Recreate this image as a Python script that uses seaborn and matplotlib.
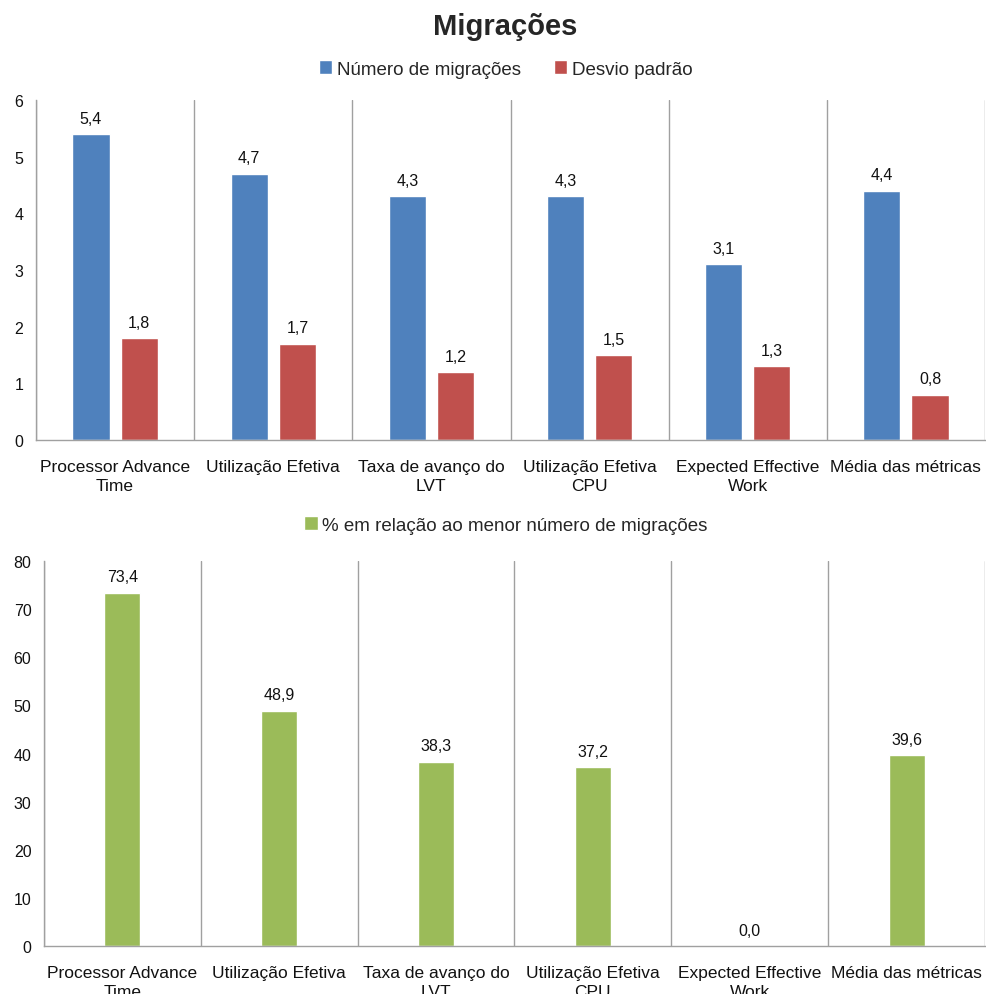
import matplotlib
matplotlib.use("Agg")
import matplotlib.pyplot as plt
import seaborn as sns
import pandas as pd
import numpy as np

categorias = [
    "Processor Advance\nTime",
    "Utilização Efetiva",
    "Taxa de avanço do\nLVT",
    "Utilização Efetiva\nCPU",
    "Expected Effective\nWork",
    "Média das métricas",
]
migracoes = [5.4, 4.7, 4.3, 4.3, 3.1, 4.4]
desvio = [1.8, 1.7, 1.2, 1.5, 1.3, 0.8]
percentual = [73.4, 48.9, 38.3, 37.2, 0.0, 39.6]

serie_mig = "Número de migrações"
serie_dp = "Desvio padrão"
serie_pct = "% em relação ao menor número de migrações"

AZUL = "#4F81BD"
VERMELHO = "#C0504D"
VERDE = "#9BBB59"
CINZA = "#A0A0A0"

sns.set_theme(style="white")
plt.rcParams["font.family"] = ["Liberation Sans", "DejaVu Sans"]

top_df = pd.DataFrame({
    "categoria": categorias * 2,
    "valor": migracoes + desvio,
    "serie": [serie_mig] * len(categorias) + [serie_dp] * len(categorias),
})
bot_df = pd.DataFrame({
    "categoria": categorias,
    "valor": percentual,
    "serie": [serie_pct] * len(categorias),
})

fig = plt.figure(figsize=(9.86, 9.95), dpi=100)
ax1 = fig.add_axes([0.0365, 0.5568, 0.9625, 0.3417])
ax2 = fig.add_axes([0.0446, 0.0482, 0.9544, 0.3870])

sns.barplot(data=top_df, x="categoria", y="valor", hue="serie",
            palette=[AZUL, VERMELHO], width=0.61, gap=0.23,
            saturation=1, ax=ax1, order=categorias)
sns.barplot(data=bot_df, x="categoria", y="valor", hue="serie",
            palette=[VERDE], width=0.23, saturation=1, ax=ax2,
            order=categorias)


def fmt(v):
    return f"{v:.1f}".replace(".", ",")


for ax in (ax1, ax2):
    for cont in ax.containers:
        vals = cont.datavalues
        ax.bar_label(cont, labels=[fmt(v) for v in vals], padding=6,
                     fontsize=11.5, color="#111111")


def estilo(ax, ymax, step):
    n = len(categorias)
    ax.set_xlim(-0.5, n - 0.5)
    ax.set_ylim(0, ymax)
    ax.set_yticks(np.arange(0, ymax + 0.001, step))
    ax.set_xticks(range(n))
    ax.set_xticklabels(categorias, fontsize=12.5, linespacing=1.3)
    ax.set_xticks(np.arange(-0.5, n, 1.0), minor=True)
    ax.grid(False)
    ax.grid(True, axis="x", which="minor", color=CINZA, linewidth=1)
    ax.tick_params(axis="x", which="major", length=0, pad=14, colors="#111111")
    ax.tick_params(axis="x", which="minor", length=5, color=CINZA, width=1)
    ax.tick_params(axis="y", length=5, color=CINZA, width=1, labelsize=11.5,
                   pad=4, colors="#111111")
    ax.tick_params(axis="y", color=CINZA)
    ax.tick_params(axis="x", which="minor", color=CINZA)
    for s in ("top", "right"):
        ax.spines[s].set_visible(False)
    for s in ("left", "bottom"):
        ax.spines[s].set_color(CINZA)
        ax.spines[s].set_linewidth(1)
    ax.set_xlabel("")
    ax.set_ylabel("")
    ax.set_axisbelow(True)


estilo(ax1, 6, 1)
estilo(ax2, 80, 10)

sns.move_legend(ax1, "center", bbox_to_anchor=(0.495, 1.091), ncol=2,
                frameon=False, title=None, fontsize=13.5, handlelength=0.7,
                handleheight=0.7, handletextpad=0.25, columnspacing=1.8)
sns.move_legend(ax2, "center", bbox_to_anchor=(0.491, 1.0935), ncol=1,
                frameon=False, title=None, fontsize=13.5, handlelength=0.7,
                handleheight=0.7, handletextpad=0.25)

fig.text(0.512, 0.973, "Migrações", ha="center", va="center",
         fontsize=21, fontweight="bold")

fig.savefig("out.png", dpi=100)
